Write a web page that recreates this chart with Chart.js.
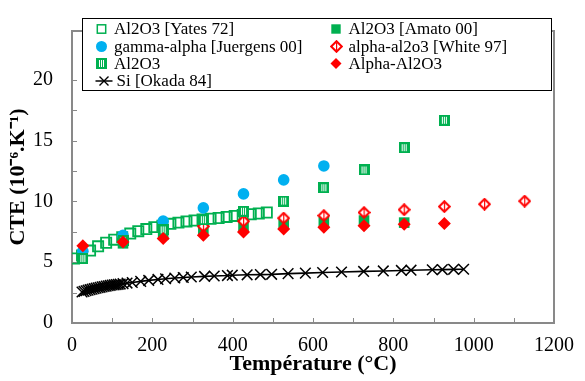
<!DOCTYPE html>
<html>
<head>
<meta charset="utf-8">
<script src="https://cdn.jsdelivr.net/npm/chart.js@4.4.1/dist/chart.umd.min.js"></script>
<style>
  html, body { margin: 0; padding: 0; background: #fff; }
  #cteChart { display: block; }
</style>
</head>
<body>
<canvas id="cteChart" width="585" height="381"></canvas>
<script>
// Series labels (legend text)
const seriesLabels = [
    'Al2O3 [Yates 72]',
    'Al2O3 [Amato 00]',
    'gamma-alpha [Juergens 00]',
    'alpha-al2o3 [White 97]',
    'Al2O3',
    'Alpha-Al2O3',
    'Si [Okada 84]'
];

// Al2O3 [Yates 72] - open squares
const yatesTemp = [5, 25, 45, 65, 85, 105, 125, 145, 165, 185, 205, 225, 245, 265, 285, 305, 325, 345, 365, 385, 405, 425, 445, 465, 485];
const yatesCte  = [5.3, 5.55, 5.95, 6.3, 6.6, 6.85, 7.05, 7.35, 7.55, 7.72, 7.88, 8.0, 8.15, 8.25, 8.35, 8.43, 8.5, 8.57, 8.63, 8.72, 8.8, 8.87, 8.94, 9.0, 9.08];

// Al2O3 [Amato 00] - filled squares
const amatoTemp = [127, 227, 327, 427, 527, 627, 727, 827];
const amatoCte  = [6.55, 7.25, 7.75, 7.9, 8.1, 8.35, 8.42, 8.25];

// gamma-alpha [Juergens 00] - circles
const juergensTemp = [27, 127, 227, 327, 427, 527, 627];
const juergensCte  = [5.9, 7.2, 8.37, 9.46, 10.61, 11.76, 12.91];

// alpha-al2o3 [White 97] - patterned diamonds
const whiteTemp = [327, 427, 527, 627, 727, 827, 927, 1027, 1127];
const whiteCte  = [7.95, 8.37, 8.62, 8.83, 9.08, 9.31, 9.57, 9.77, 10.02];

// Al2O3 - striped squares
const alTemp = [27, 127, 227, 327, 427, 527, 627, 727, 827, 927];
const alCte  = [5.3, 6.75, 7.65, 8.49, 9.18, 10.02, 11.12, 12.58, 14.41, 16.66];

// Alpha-Al2O3 - filled diamonds
const alphaTemp = [27, 127, 227, 327, 427, 527, 627, 727, 827, 927];
const alphaCte  = [6.35, 6.66, 6.94, 7.22, 7.47, 7.73, 7.86, 7.99, 8.11, 8.17];

// Si [Okada 84] - crosses with line
const siTemp = [25, 30, 35, 40, 45, 50, 55, 60, 65, 70, 75, 80, 85, 90, 95, 100, 105, 110, 115, 120, 127, 137, 150, 171, 191, 214, 233, 256, 277, 297, 330, 354, 387, 399, 436, 469, 497, 538, 581, 624, 671, 726, 775, 820, 844, 897, 922, 950, 975];
const siCte  = [2.55, 2.6, 2.65, 2.7, 2.74, 2.78, 2.82, 2.86, 2.9, 2.93, 2.97, 3.0, 3.03, 3.06, 3.09, 3.12, 3.14, 3.16, 3.18, 3.2, 3.23, 3.28, 3.33, 3.42, 3.5, 3.58, 3.64, 3.7, 3.74, 3.78, 3.83, 3.86, 3.9, 3.93, 3.96, 3.98, 4.0, 4.06, 4.1, 4.15, 4.19, 4.24, 4.28, 4.32, 4.34, 4.38, 4.39, 4.41, 4.42];

// Axis settings
const xMin = 0, xMax = 1200, xStep = 100, xLabelStep = 200;
const yMin = 0, yMax = 24, yStep = 2.5, yLabelStep = 5;

const GREEN = '#00B050';
const BLUE = '#00B0F0';
const RED = '#FF0000';
const FRAME = '#898989';
const SERIF = "'Liberation Serif', 'Times New Roman', serif";

function toPoints(xs, ys) {
    return xs.map((x, i) => ({ x: x, y: ys[i] }));
}

// small pattern markers (like Excel's pattern fills)
function makeStripedSquare() {
    const c = document.createElement('canvas');
    c.width = 11; c.height = 11;
    const g = c.getContext('2d');
    g.fillStyle = GREEN;
    g.fillRect(0, 0, 11, 11);
    g.fillStyle = '#ffffff';
    [3, 5, 7].forEach(x => g.fillRect(x, 2, 1, 7));
    return c;
}

function makePatternDiamond() {
    const c = document.createElement('canvas');
    c.width = 13; c.height = 13;
    const g = c.getContext('2d');
    g.beginPath();
    g.moveTo(6.5, 1.2); g.lineTo(11.8, 6.5); g.lineTo(6.5, 11.8); g.lineTo(1.2, 6.5);
    g.closePath();
    g.fillStyle = '#ffffff';
    g.fill();
    g.lineWidth = 2;
    g.strokeStyle = RED;
    g.stroke();
    g.fillStyle = RED;
    g.fillRect(6, 3, 1.2, 7);
    return c;
}

const stripedSquare = makeStripedSquare();
const patternDiamond = makePatternDiamond();

const datasets = [
    { label: seriesLabels[0], data: toPoints(yatesTemp, yatesCte), pointStyle: 'rect', pointRadius: 7.2,
      backgroundColor: 'rgba(0,0,0,0)', borderColor: GREEN, pointBorderWidth: 1.8, order: 7 },
    { label: seriesLabels[1], data: toPoints(amatoTemp, amatoCte), pointStyle: 'rect', pointRadius: 7.5,
      backgroundColor: GREEN, borderColor: GREEN, pointBorderWidth: 0, order: 6 },
    { label: seriesLabels[2], data: toPoints(juergensTemp, juergensCte), pointStyle: 'circle', pointRadius: 5.8,
      backgroundColor: BLUE, borderColor: BLUE, pointBorderWidth: 0, order: 5 },
    { label: seriesLabels[3], data: toPoints(whiteTemp, whiteCte), pointStyle: patternDiamond, pointRadius: 6,
      backgroundColor: RED, borderColor: RED, order: 4 },
    { label: seriesLabels[4], data: toPoints(alTemp, alCte), pointStyle: stripedSquare, pointRadius: 6,
      backgroundColor: GREEN, borderColor: GREEN, order: 3 },
    { label: seriesLabels[5], data: toPoints(alphaTemp, alphaCte), pointStyle: 'rectRot', pointRadius: 6.5,
      backgroundColor: RED, borderColor: RED, pointBorderWidth: 0, order: 2 },
    { label: seriesLabels[6], data: toPoints(siTemp, siCte), pointStyle: 'crossRot', pointRadius: 7.5,
      backgroundColor: '#000', borderColor: '#000', pointBorderWidth: 1.5, borderWidth: 1.6,
      showLine: true, order: 1 }
];

// plot frame + inward tick marks
const framePlugin = {
    id: 'frame',
    beforeDatasetsDraw(chart) {
        const { ctx, chartArea: a, scales } = chart;
        ctx.save();
        ctx.strokeStyle = FRAME;
        ctx.lineWidth = 1;
        scales.x.ticks.forEach(t => {
            const px = Math.round(scales.x.getPixelForValue(t.value)) + 0.5;
            ctx.beginPath(); ctx.moveTo(px, a.bottom); ctx.lineTo(px, a.bottom - 5); ctx.stroke();
        });
        scales.y.ticks.forEach(t => {
            const py = Math.round(scales.y.getPixelForValue(t.value)) + 0.5;
            ctx.beginPath(); ctx.moveTo(a.left, py); ctx.lineTo(a.left + 5, py); ctx.stroke();
        });
        ctx.lineWidth = 2;
        ctx.strokeRect(a.left, a.top, a.right - a.left, a.bottom - a.top);
        ctx.restore();
    }
};

// legend drawn as a boxed two-column block inside the plot
const legendSlots = [
    { x: 101.5, y: 29 }, { x: 336, y: 29 },
    { x: 101.5, y: 46.5 }, { x: 336, y: 46.5 },
    { x: 101.5, y: 63.5 }, { x: 336, y: 63.5 },
    { x: 104, y: 81 }
];

function drawLegendMarker(g, ds, x, y) {
    const s = ds.pointStyle;
    if (s instanceof HTMLCanvasElement) {
        g.drawImage(s, Math.round(x - s.width / 2), Math.round(y - s.height / 2));
        return;
    }
    g.save();
    if (s === 'rect') {
        const h = ds.backgroundColor === GREEN ? 4.7 : 4.2;
        if (ds.backgroundColor === GREEN) {
            g.fillStyle = GREEN;
            g.fillRect(x - h, y - h, 2 * h, 2 * h);
        } else {
            g.strokeStyle = GREEN; g.lineWidth = 1.5;
            g.strokeRect(x - h, y - h, 2 * h, 2 * h);
        }
    } else if (s === 'circle') {
        g.fillStyle = BLUE;
        g.beginPath(); g.arc(x, y, 5.5, 0, Math.PI * 2); g.fill();
    } else if (s === 'rectRot') {
        g.fillStyle = RED;
        g.beginPath();
        g.moveTo(x, y - 5.5); g.lineTo(x + 5.5, y); g.lineTo(x, y + 5.5); g.lineTo(x - 5.5, y);
        g.closePath(); g.fill();
    } else if (s === 'crossRot') {
        g.strokeStyle = '#000'; g.lineWidth = 1.5;
        g.beginPath(); g.moveTo(x - 8.5, y); g.lineTo(x + 8.5, y); g.stroke();
        g.lineWidth = 1.4;
        g.beginPath();
        g.moveTo(x - 4.5, y - 4.5); g.lineTo(x + 4.5, y + 4.5);
        g.moveTo(x + 4.5, y - 4.5); g.lineTo(x - 4.5, y + 4.5);
        g.stroke();
    }
    g.restore();
}

const legendBoxPlugin = {
    id: 'legendBox',
    afterDatasetsDraw(chart) {
        const g = chart.ctx;
        g.save();
        g.fillStyle = '#fff';
        g.fillRect(82.5, 18.5, 469, 72);
        g.strokeStyle = '#000';
        g.lineWidth = 1;
        g.strokeRect(82.5, 18.5, 469, 72);
        g.font = '17px ' + SERIF;
        g.textBaseline = 'middle';
        g.textAlign = 'left';
        g.fillStyle = '#000';
        chart.data.datasets.forEach((ds, i) => {
            const slot = legendSlots[i];
            drawLegendMarker(g, ds, slot.x, slot.y);
            g.fillText(ds.label, slot.x + 12.5, slot.y + 1);
        });
        g.restore();
    }
};

const ctx = document.getElementById('cteChart').getContext('2d');
new Chart(ctx, {
    type: 'scatter',
    data: { datasets: datasets },
    options: {
        responsive: false,
        animation: false,
        events: [],
        layout: { padding: { top: 10, right: 23, left: 0, bottom: 0 } },
        plugins: {
            legend: { display: false },
            tooltip: { enabled: false }
        },
        scales: {
            x: {
                type: 'linear',
                min: xMin, max: xMax,
                grid: { display: false, drawTicks: false },
                border: { display: false },
                ticks: {
                    stepSize: xStep,
                    autoSkip: false,
                    maxRotation: 0,
                    padding: 11,
                    color: '#000',
                    font: { family: SERIF, size: 20, lineHeight: 1.2 },
                    callback: v => (v % xLabelStep === 0 ? String(v) : '')
                },
                title: {
                    display: true,
                    text: 'Température (°C)',
                    color: '#000',
                    font: { family: SERIF, size: 22, weight: 'bold', lineHeight: 1.2 },
                    padding: { top: 0, bottom: 3 }
                },
                afterFit: scale => { scale.height = 58; }
            },
            y: {
                type: 'linear',
                min: yMin, max: yMax,
                grid: { display: false, drawTicks: false },
                border: { display: false },
                ticks: {
                    stepSize: yStep,
                    autoSkip: false,
                    padding: 19,
                    color: '#000',
                    font: { family: SERIF, size: 20, lineHeight: 1.2 },
                    callback: v => (v % yLabelStep === 0 ? String(v) : '')
                },
                afterBuildTicks: scale => {
                    scale.ticks = scale.ticks.filter(t => t.value < yMax);
                },
                title: {
                    display: true,
                    text: 'CTE (10⁻⁶.K⁻¹)',
                    color: '#000',
                    font: { family: SERIF, size: 22, weight: 'bold', lineHeight: 1.2 },
                    padding: { top: 5, bottom: 0 }
                },
                afterFit: scale => { scale.width = 72; }
            }
        }
    },
    plugins: [framePlugin, legendBoxPlugin]
});
</script>
</body>
</html>
